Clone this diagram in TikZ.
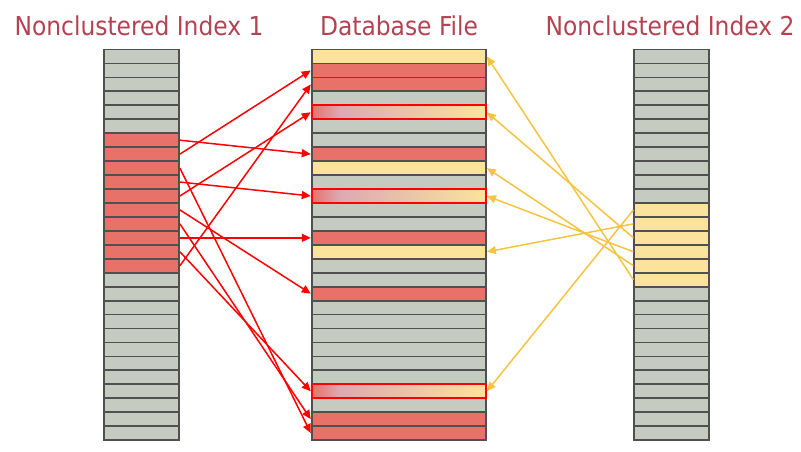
\documentclass[tikz,border=0pt]{standalone}
\usepackage{fontspec}
\setmainfont{DejaVu Sans Condensed}
\usetikzlibrary{arrows.meta,positioning}

\definecolor{rowgrey}{RGB}{198,203,193}
\definecolor{rowred}{RGB}{232,113,106}
\definecolor{rowyellow}{RGB}{251,227,156}
\definecolor{rowpink}{RGB}{220,169,179}
\definecolor{rowline}{RGB}{80,80,80}
\definecolor{hitred}{RGB}{255,0,0}
\definecolor{linkred}{RGB}{255,0,0}
\definecolor{linkyellow}{RGB}{244,196,64}
\definecolor{headred}{RGB}{180,66,82}

\pgfdeclarehorizontalshading{rowfade}{100bp}{color(0bp)=(rowred); color(25bp)=(rowred); color(33bp)=(rowpink); color(75bp)=(rowyellow); color(100bp)=(rowyellow)}

\begin{document}
\begin{tikzpicture}[x=1pt, y=-1pt,
    cell/.style={rectangle, draw=rowline, line width=1.8pt, inner sep=0pt, minimum height=13.95pt},
    narrow/.style={cell, minimum width=75pt},
    wide/.style={cell, minimum width=174.3pt},
    hit/.style={wide, shading=rowfade, draw=hitred},
    redlink/.style={-{Triangle[length=9pt,width=8pt]}, draw=linkred, line width=1.5pt},
    yellowlink/.style={-{Triangle[length=9pt,width=8pt]}, draw=linkyellow, line width=1.5pt},
    heading/.style={anchor=base, text=headred, font=\fontsize{26}{30}\selectfont}]
    \useasboundingbox (0,0) rectangle (801,451);

    \node[heading] (head1) at (139,35) {Nonclustered Index 1};
    \node[heading] (head2) at (399,35) {Database File};
    \node[heading] (head3) at (670,35) {Nonclustered Index 2};

    % index 1 and index 2
    \foreach \k in {1,...,28} {
        \pgfmathtruncatemacro\inone{and(\k>6,\k<17)}
        \pgfmathtruncatemacro\intwo{and(\k>11,\k<18)}
        \ifnum\inone=1 \def\cl{rowred}\else\def\cl{rowgrey}\fi
        \ifnum\intwo=1 \def\cr{rowyellow}\else\def\cr{rowgrey}\fi
        \node[narrow, fill=\cl] (L\k) at (141.5, {49.5+(\k-0.5)*13.95}) {};
        \node[narrow, fill=\cr] (R\k) at (671.8, {49.5+(\k-0.5)*13.95}) {};
    }

    % database file
    \foreach \k/\c in {1/rowyellow, 2/rowred, 3/rowred, 4/rowgrey, 5/rowgrey, 6/rowgrey, 7/rowgrey,
        8/rowred, 9/rowyellow, 10/rowgrey, 11/rowgrey, 12/rowgrey, 13/rowgrey, 14/rowred,
        15/rowyellow, 16/rowgrey, 17/rowgrey, 18/rowred, 19/rowgrey, 20/rowgrey, 21/rowgrey,
        22/rowgrey, 23/rowgrey, 24/rowgrey, 25/rowgrey, 26/rowgrey, 27/rowred, 28/rowred} {
        \node[wide, fill=\c] (M\k) at (398.85, {49.5+(\k-0.5)*13.95}) {};
    }
    \foreach \k in {5,11,25} {
        \node[hit] (H\k) at (M\k) {};
    }

    % lookups
    \foreach \a/\b in {7/8, 8/2, 9/28, 10/11, 11/5, 12/18, 13/27, 14/14, 15/25, 16/3} {
        \draw[redlink] (L\a.east) -- (M\b.west);
    }
    \foreach \a/\b in {12/25, 13/15, 14/5, 15/11, 16/9, 17/1} {
        \draw[yellowlink] (R\a.west) -- (M\b.east);
    }
\end{tikzpicture}
\end{document}
